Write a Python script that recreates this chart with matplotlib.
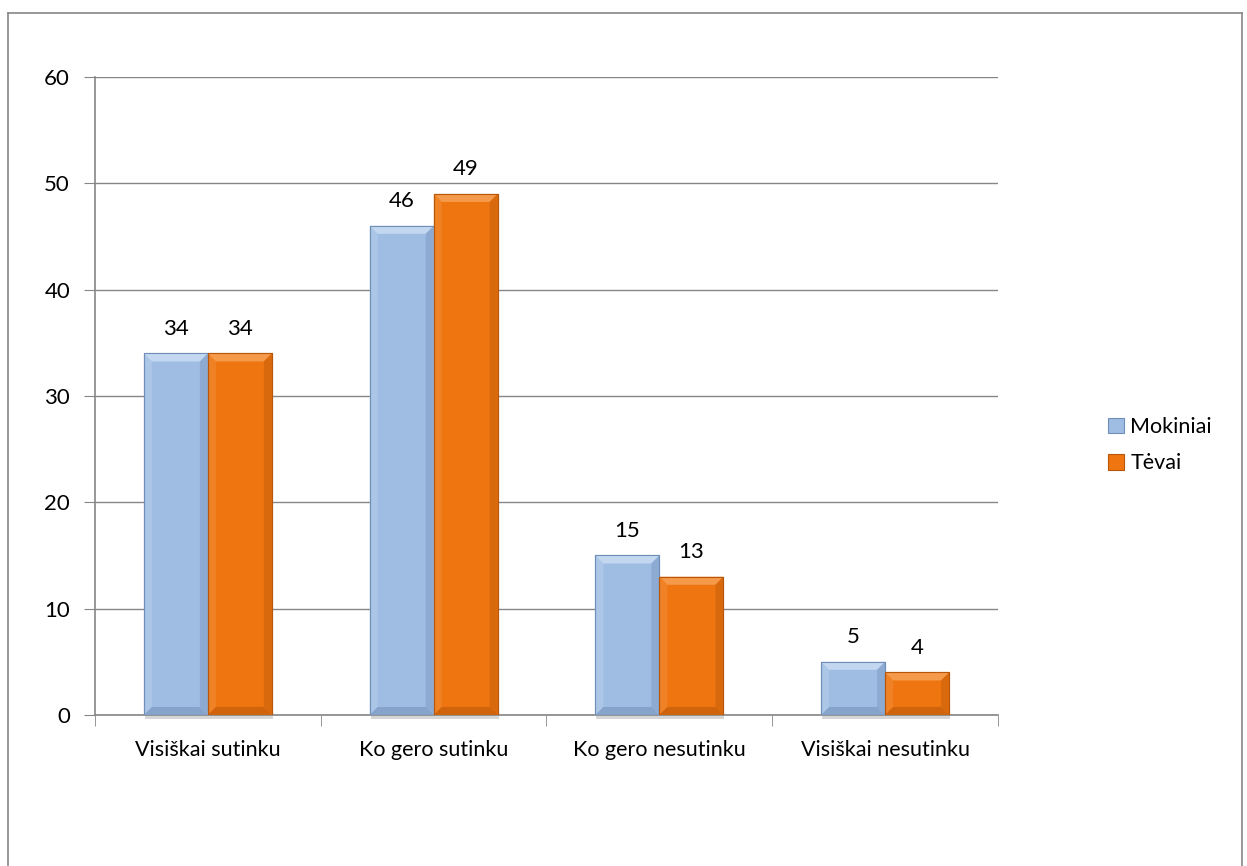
import numpy as np
import matplotlib.pyplot as plt
from matplotlib.patches import Polygon, Rectangle
from matplotlib.lines import Line2D

# Duomenys
kategorijos = ['Visiškai sutinku', 'Ko gero sutinku', 'Ko gero nesutinku', 'Visiškai nesutinku']
mokiniai = [34, 46, 15, 5]
tevai = [34, 49, 13, 4]
serijos = ['Mokiniai', 'Tėvai']

plt.rcParams['font.family'] = ['Lato', 'DejaVu Sans']
fs = 16
fs_kat = 15.5

fig = plt.figure(figsize=(12.47, 8.66), dpi=100)
ax = fig.add_axes([0.0762, 0.1744, 0.7241, 0.7367])

pilka = '#868686'
spalvos = ['#9fbde3', '#ef7511']
krastai = ['#6f8fb8', '#b8570a']
sviesus = ['#c3d8f0', '#f49a4a']
tamsus = ['#86a4cb', '#cf640c']

x = np.arange(len(kategorijos))
w = 0.2835
ymax = 60
ax_h_px = 0.7367 * 866
bev_y = 8 / ax_h_px * ymax
bev_x = 8 / (0.7241 * 1247 / 4)

for i, vals in enumerate([mokiniai, tevai]):
    pos = x + (i - 0.5) * w
    bars = ax.bar(pos, vals, width=w, color=spalvos[i], edgecolor=krastai[i],
                  linewidth=0.8, zorder=3, label=serijos[i], align='center')
    for b, v in zip(bars, vals):
        x0, x1 = b.get_x(), b.get_x() + b.get_width()
        y0, y1 = 0, v
        by = min(bev_y, v / 3)
        # virsus
        ax.add_patch(Polygon([[x0, y1], [x1, y1], [x1 - bev_x, y1 - by], [x0 + bev_x, y1 - by]],
                             closed=True, color=sviesus[i], lw=0, zorder=4))
        # kaire
        ax.add_patch(Polygon([[x0, y0], [x0, y1], [x0 + bev_x, y1 - by], [x0 + bev_x, y0 + by]],
                             closed=True, color=sviesus[i], lw=0, zorder=4, alpha=0.35))
        # apacia
        ax.add_patch(Polygon([[x0, y0], [x1, y0], [x1 - bev_x, y0 + by], [x0 + bev_x, y0 + by]],
                             closed=True, color=tamsus[i], lw=0, zorder=4))
        # desine
        ax.add_patch(Polygon([[x1, y0], [x1, y1], [x1 - bev_x, y1 - by], [x1 - bev_x, y0 + by]],
                             closed=True, color=tamsus[i], lw=0, zorder=4, alpha=0.7))
        # seselis
        ax.add_patch(Rectangle((x0 + 0.005, -0.35), x1 - x0, 0.35, color='#bbbbbb', lw=0,
                               zorder=2, alpha=0.6, clip_on=False))
        ax.add_patch(Rectangle((x0, y0), x1 - x0, y1 - y0, fill=False, ec=krastai[i],
                               lw=0.8, zorder=5))
        ax.annotate(str(v), (b.get_x() + b.get_width() / 2, v), xytext=(0, 13.5),
                    textcoords='offset points', ha='center', va='baseline',
                    fontsize=fs, color='black')

ax.set_xlim(-0.5, len(kategorijos) - 0.5)
ax.set_ylim(0, ymax)
ax.set_yticks(range(0, 61, 10))
ax.set_xticks(x)
ax.set_xticklabels(kategorijos, fontsize=fs_kat)
ax.tick_params(axis='y', labelsize=fs, length=8, color=pilka, pad=10)
ax.tick_params(axis='x', length=0, pad=18)
ax.set_xticks(np.arange(-0.5, len(kategorijos)), minor=True)
ax.tick_params(axis='x', which='minor', length=8, color=pilka)
ax.grid(axis='y', color=pilka, linewidth=1, zorder=0)
ax.set_axisbelow(True)
for s in ['top', 'right']:
    ax.spines[s].set_visible(False)
for s in ['left', 'bottom']:
    ax.spines[s].set_color(pilka)
    ax.spines[s].set_linewidth(1.2)

ax.legend(loc='center left', bbox_to_anchor=(1.10, 0.423), frameon=False, fontsize=fs_kat,
          handlelength=0.75, handleheight=0.75, handletextpad=0.3, labelspacing=0.75)

# remelis
fig.add_artist(Line2D([8 / 1247, 8 / 1247], [0, 1 - 13 / 866], color=pilka, lw=1.2))
fig.add_artist(Line2D([8 / 1247, 1242 / 1247], [1 - 13 / 866, 1 - 13 / 866], color=pilka, lw=1.2))
fig.add_artist(Line2D([1242 / 1247, 1242 / 1247], [0, 1 - 13 / 866], color=pilka, lw=1.2))

fig.savefig('out.png', dpi=100)
